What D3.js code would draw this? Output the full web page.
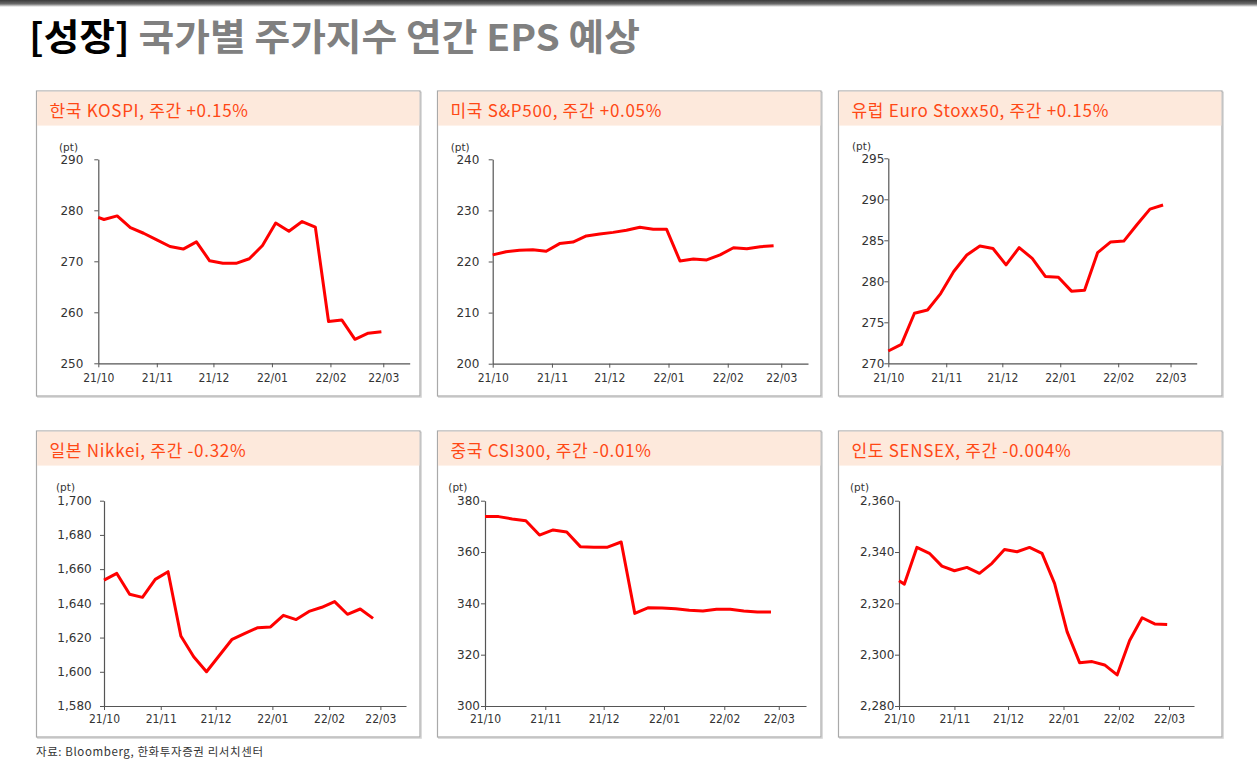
<!DOCTYPE html>
<html>
<head>
<meta charset="utf-8">
<script src="https://cdn.jsdelivr.net/npm/d3@7"></script>
<style>
  html, body { margin: 0; padding: 0; background: #fff; }
  svg { display: block; }
</style>
</head>
<body>
<svg id="chart" width="1257" height="767"></svg>
<script>
// ---------------- DATA ----------------
const monthLabels = ["21/10", "21/11", "21/12", "22/01", "22/02", "22/03"];
const monthTickDates = ["2021-10-01", "2021-11-01", "2021-12-01", "2022-01-01", "2022-02-01", "2022-03-01"];

// weekly observation dates
const datesMon = ["2021-10-01", "2021-10-04", "2021-10-11", "2021-10-18", "2021-10-25", "2021-11-01", "2021-11-08",
  "2021-11-15", "2021-11-22", "2021-11-29", "2021-12-06", "2021-12-13", "2021-12-20", "2021-12-27", "2022-01-03",
  "2022-01-10", "2022-01-17", "2022-01-24", "2022-01-31", "2022-02-07", "2022-02-14", "2022-02-21", "2022-02-28"];
const datesFri = ["2021-10-01", "2021-10-08", "2021-10-15", "2021-10-22", "2021-10-29", "2021-11-05", "2021-11-12",
  "2021-11-19", "2021-11-26", "2021-12-03", "2021-12-10", "2021-12-17", "2021-12-24", "2021-12-31", "2022-01-07",
  "2022-01-14", "2022-01-21", "2022-01-28", "2022-02-04", "2022-02-11", "2022-02-18", "2022-02-25"];

const panelTitles = ["한국 KOSPI, 주간 +0.15%", "미국 S&P500, 주간 +0.05%", "유럽 Euro Stoxx50, 주간 +0.15%",
  "일본 Nikkei, 주간 -0.32%", "중국 CSI300, 주간 -0.01%", "인도 SENSEX, 주간 -0.004%"];

const kospi = [278.6, 278.2, 278.9, 276.6, 275.5, 274.2, 272.9, 272.4, 273.8, 270.1, 269.6, 269.6, 270.5, 273.1,
  277.5, 275.9, 277.8, 276.7, 258.2, 258.5, 254.7, 255.9, 256.2];
const sp500 = [221.3, 221.9, 222.2, 222.3, 222.0, 223.5, 223.8, 225.0, 225.4, 225.7, 226.1, 226.7, 226.3, 226.3,
  220.1, 220.5, 220.3, 221.3, 222.7, 222.5, 222.9, 223.1];
const eurostoxx = [271.5, 272.3, 276.1, 276.5, 278.5, 281.2, 283.2, 284.3, 284.0, 282.0, 284.1, 282.8, 280.6, 280.5,
  278.8, 278.9, 283.5, 284.8, 284.9, 286.9, 288.8, 289.3];
const nikkei = [1653.6, 1657.5, 1645.3, 1643.5, 1654.0, 1658.5, 1620.9, 1608.8, 1600.0, 1609.5, 1619.0, 1622.5,
  1625.8, 1626.2, 1633.0, 1630.5, 1635.3, 1637.7, 1641.0, 1633.6, 1636.7, 1631.2];
const csi300 = [373.8, 373.8, 372.9, 372.2, 366.6, 368.6, 367.8, 362.1, 361.9, 361.9, 363.9, 336.1, 338.3, 338.2,
  337.9, 337.3, 337.0, 337.7, 337.7, 337.0, 336.6, 336.6];
const sensex = [2328.8, 2327.5, 2341.8, 2339.5, 2334.5, 2332.7, 2334.0, 2331.7, 2335.6, 2341.0, 2340.1, 2341.8,
  2339.5, 2327.8, 2309.0, 2296.9, 2297.3, 2296.0, 2292.1, 2305.5, 2314.4, 2312.0, 2311.8];

const yTicksKospi = [250, 260, 270, 280, 290];
const yTicksSp500 = [200, 210, 220, 230, 240];
const yTicksEuro = [270, 275, 280, 285, 290, 295];
const yTicksNikkei = [1580, 1600, 1620, 1640, 1660, 1680, 1700];
const yTicksCsi = [300, 320, 340, 360, 380];
const yTicksSensex = [2280, 2300, 2320, 2340, 2360];

const xDomainDates = ["2021-10-01", "2022-03-15"];

// ---------------- LAYOUT ----------------
const parse = d3.timeParse("%Y-%m-%d");
const svg = d3.select("#chart");
const yTickFont = "'DejaVu Sans', sans-serif";
const xTickFont = "'DejaVu Sans Condensed', 'DejaVu Sans', sans-serif";
const krFont = "'Noto Sans CJK KR', sans-serif";

// top bar gradient
const defs = svg.append("defs");
const grad = defs.append("linearGradient").attr("id", "topbar").attr("x1", 0).attr("y1", 0).attr("x2", 0).attr("y2", 1);
grad.append("stop").attr("offset", "0%").attr("stop-color", "#3a3a3a");
grad.append("stop").attr("offset", "55%").attr("stop-color", "#6a6a6a");
grad.append("stop").attr("offset", "100%").attr("stop-color", "#ffffff");
svg.append("rect").attr("x", 0).attr("y", 0).attr("width", 1257).attr("height", 7).attr("fill", "url(#topbar)");

// main title
const title = svg.append("text")
  .attr("x", 29).attr("y", 51)
  .attr("font-family", krFont).attr("font-weight", 700).attr("font-size", 37)
  .attr("textLength", 611).attr("lengthAdjust", "spacingAndGlyphs");
title.append("tspan").attr("fill", "#000").text("[성장]");
title.append("tspan").attr("fill", "#808080").text(" 국가별 주가지수 연간 EPS 예상");

// footer
svg.append("text").attr("x", 36).attr("y", 755.5)
  .attr("font-family", krFont).attr("font-size", 11.5).attr("fill", "#333")
  .attr("letter-spacing", 0.6)
  .text("자료: Bloomberg, 한화투자증권 리서치센터");

const boxes = [
  { x: 36.5, y: 91, w: 383.5, h: 305 },
  { x: 437.5, y: 91, w: 383.5, h: 305 },
  { x: 838.5, y: 91, w: 383.5, h: 305 },
  { x: 36.5, y: 431, w: 383.5, h: 306 },
  { x: 437.5, y: 431, w: 383.5, h: 306 },
  { x: 838.5, y: 431, w: 383.5, h: 306 }
];
const plots = [
  { l: 98.3, r: 409.7, t: 159.3, b: 363.3, labR: 83.3, labY: 379, ptX: 59, ptY: 147 },
  { l: 492.7, r: 808, t: 159.3, b: 363.7, labR: 479.3, labY: 379.3, ptX: 450.7, ptY: 147 },
  { l: 888.3, r: 1196.7, t: 158.3, b: 363.3, labR: 884.3, labY: 379.3, ptX: 852, ptY: 146 },
  { l: 104, r: 406, t: 500.7, b: 706, labR: 91.7, labY: 720.3, ptX: 56, ptY: 487 },
  { l: 485, r: 806, t: 500.7, b: 706, labR: 480, labY: 720.3, ptX: 448.3, ptY: 487 },
  { l: 899, r: 1194, t: 500.7, b: 706, labR: 894.3, labY: 720.3, ptX: 850, ptY: 487 }
];

const panels = [
  { title: panelTitles[0], dates: datesMon, values: kospi, yTicks: yTicksKospi },
  { title: panelTitles[1], dates: datesFri, values: sp500, yTicks: yTicksSp500 },
  { title: panelTitles[2], dates: datesFri, values: eurostoxx, yTicks: yTicksEuro },
  { title: panelTitles[3], dates: datesFri, values: nikkei, yTicks: yTicksNikkei },
  { title: panelTitles[4], dates: datesFri, values: csi300, yTicks: yTicksCsi },
  { title: panelTitles[5], dates: datesMon, values: sensex, yTicks: yTicksSensex }
];

const fmt = d3.format(",");

panels.forEach((p, i) => {
  const bx = boxes[i], pl = plots[i];
  const g = svg.append("g");

  // box shadow + border
  g.append("rect").attr("x", bx.x + 1.2).attr("y", bx.y + 1.2).attr("width", bx.w).attr("height", bx.h)
    .attr("fill", "none").attr("stroke", "#d4d4d4").attr("stroke-width", 1.2);
  g.append("rect").attr("x", bx.x).attr("y", bx.y).attr("width", bx.w).attr("height", bx.h)
    .attr("fill", "#fff").attr("stroke", "#a9a9a9").attr("stroke-width", 1.2);
  // header
  g.append("rect").attr("x", bx.x + 0.6).attr("y", bx.y + 0.6).attr("width", bx.w - 1.2).attr("height", 34)
    .attr("fill", "#fde9dc");
  g.append("text").attr("x", bx.x + 13).attr("y", bx.y + 25.5)
    .attr("font-family", krFont).attr("font-size", 17).attr("fill", "#ff4815")
    .attr("letter-spacing", 0.7)
    .text(p.title);

  // scales
  const x = d3.scaleTime().domain(xDomainDates.map(parse)).range([pl.l, pl.r]);
  const y = d3.scaleLinear().domain(d3.extent(p.yTicks)).range([pl.b, pl.t]);

  // y axis
  const yAxis = g.append("g").attr("transform", `translate(${pl.l},0)`)
    .call(d3.axisLeft(y).tickValues(p.yTicks).tickFormat(fmt).tickSize(4).tickPadding(pl.l - pl.labR - 4).tickSizeOuter(0));
  yAxis.select(".domain").attr("stroke", "#555").attr("stroke-width", 1.2);
  yAxis.selectAll(".tick line").attr("stroke", "#555").attr("stroke-width", 1);
  yAxis.selectAll(".tick text").attr("font-family", yTickFont).attr("font-size", 12).attr("fill", "#333");

  // x axis
  const xAxis = g.append("g").attr("transform", `translate(0,${pl.b})`)
    .call(d3.axisBottom(x).tickValues(monthTickDates.map(parse))
      .tickFormat((d, k) => monthLabels[k]).tickSize(4).tickPadding(pl.labY - pl.b - 10).tickSizeOuter(0));
  xAxis.select(".domain").attr("stroke", "#555").attr("stroke-width", 1.2);
  xAxis.selectAll(".tick line").attr("stroke", "#555").attr("stroke-width", 1);
  xAxis.selectAll(".tick text").attr("font-family", xTickFont).attr("font-size", 12).attr("fill", "#333");

  // unit label
  g.append("text").attr("x", pl.ptX).attr("y", pl.ptY + 4)
    .attr("font-family", yTickFont).attr("font-size", 10.5).attr("fill", "#333").text("(pt)");

  // line
  const series = p.dates.map((d, k) => ({ d: parse(d), v: p.values[k] }));
  g.append("path").datum(series)
    .attr("fill", "none").attr("stroke", "#ff0000").attr("stroke-width", 3)
    .attr("stroke-linejoin", "round").attr("stroke-linecap", "butt")
    .attr("d", d3.line().x(s => x(s.d)).y(s => y(s.v)));
});
</script>
</body>
</html>
